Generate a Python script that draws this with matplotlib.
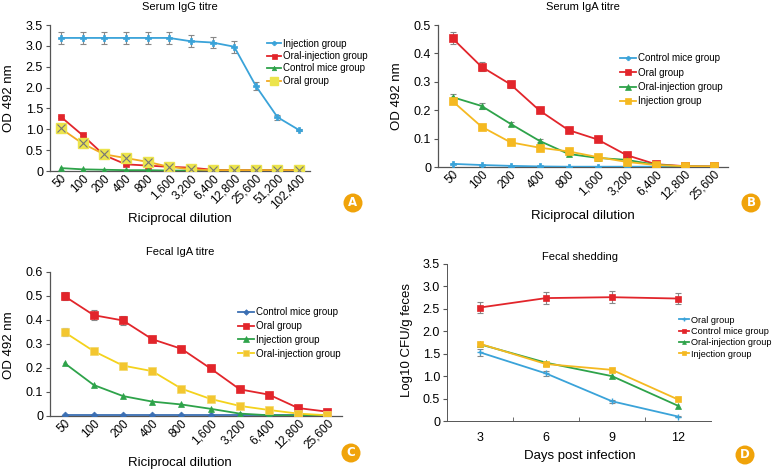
import matplotlib.pyplot as plt
from matplotlib.patches import Ellipse

plt.rcParams['font.family'] = ['Liberation Sans', 'DejaVu Sans']

BLUE = '#3aa3d9'
RED = '#e2252b'
GREEN = '#2ea34a'
YELLOW = '#f5b921'
DARKBLUE = '#3b6fb3'

# Panel A - Serum IgG titre
a_labels = ['50', '100', '200', '400', '800', '1,600', '3,200', '6,400', '12,800', '25,600', '51,200', '102,400']
a_injection = [3.19, 3.19, 3.19, 3.19, 3.19, 3.19, 3.11, 3.08, 2.98, 2.04, 1.29, 0.98]
a_injection_err = [0.15, 0.15, 0.15, 0.15, 0.15, 0.15, 0.14, 0.14, 0.14, 0.09, 0.06, 0.03]
a_oral_inj = [1.30, 0.86, 0.38, 0.16, 0.13, 0.10, 0.08, 0.03, 0.02, 0.02, 0.02, 0.02]
a_oral_inj_err = [0.03, 0.03, 0.02, 0.02, 0.01, 0.01, 0.01, 0.01, 0.01, 0.01, 0.01, 0.01]
a_control = [0.07, 0.04, 0.03, 0.02, 0.02, 0.01, 0.01, 0.01, 0.01, 0.01, 0.01, 0.01]
a_oral = [1.02, 0.66, 0.40, 0.31, 0.22, 0.10, 0.04, 0.02, 0.02, 0.02, 0.02, 0.02]

# Panel B - Serum IgA titre
b_labels = ['50', '100', '200', '400', '800', '1,600', '3,200', '6,400', '12,800', '25,600']
b_control = [0.011, 0.007, 0.004, 0.002, 0.001, 0.001, 0.001, 0.001, 0.001, 0.001]
b_oral = [0.453, 0.353, 0.291, 0.199, 0.130, 0.097, 0.042, 0.010, 0.003, 0.002]
b_oral_err = [0.021, 0.015, 0.013, 0.006, 0.005, 0.004, 0.004, 0.002, 0.001, 0.001]
b_oral_inj = [0.246, 0.215, 0.152, 0.092, 0.046, 0.032, 0.025, 0.008, 0.002, 0.001]
b_oral_inj_err = [0.012, 0.011, 0.007, 0.005, 0.003, 0.002, 0.002, 0.001, 0.001, 0.001]
b_injection = [0.232, 0.142, 0.087, 0.068, 0.055, 0.035, 0.018, 0.007, 0.003, 0.002]
b_injection_err = [0.010, 0.006, 0.004, 0.003, 0.003, 0.002, 0.002, 0.001, 0.001, 0.001]

# Panel C - Fecal IgA titre
c_labels = b_labels
c_control = [0.003] * 10
c_oral = [0.499, 0.420, 0.398, 0.320, 0.280, 0.198, 0.111, 0.089, 0.033, 0.018]
c_oral_err = [0.016, 0.020, 0.018, 0.012, 0.009, 0.006, 0.005, 0.005, 0.004, 0.003]
c_injection = [0.220, 0.129, 0.083, 0.060, 0.048, 0.030, 0.010, 0.003, 0.002, 0.002]
c_oral_inj = [0.349, 0.270, 0.210, 0.187, 0.114, 0.071, 0.042, 0.025, 0.010, 0.003]
c_oral_inj_err = [0.017, 0.012, 0.006, 0.006, 0.005, 0.004, 0.003, 0.002, 0.002, 0.001]

# Panel D - Fecal shedding
d_days = ['3', '6', '9', '12']
d_oral = [1.53, 1.06, 0.44, 0.10]
d_oral_err = [0.07, 0.06, 0.03, 0.02]
d_control = [2.53, 2.74, 2.76, 2.73]
d_control_err = [0.12, 0.13, 0.13, 0.13]
d_oral_inj = [1.71, 1.30, 1.00, 0.34]
d_injection = [1.72, 1.27, 1.14, 0.48]

W, H = 777, 470
fig = plt.figure(figsize=(W / 100, H / 100), dpi=100)

TICK_FS = 9
LAB_FS = 9.5
TITLE_FS = 8
LEG_FS = 7


def style_axis(ax, labels, ymax, ystep):
    ax.spines['top'].set_visible(False)
    ax.spines['right'].set_visible(False)
    for s in ['left', 'bottom']:
        ax.spines[s].set_color('#555555')
        ax.spines[s].set_linewidth(0.9)
    ax.set_xlim(-0.5, len(labels) - 0.5)
    ax.set_ylim(0, ymax)
    ticks = [i * ystep for i in range(int(round(ymax / ystep)) + 1)]
    ax.set_yticks(ticks)
    ax.tick_params(axis='y', direction='out', length=3, width=0.8, color='#555555',
                   labelsize=TICK_FS, pad=2)
    ax.tick_params(axis='x', length=0, labelsize=8.5, pad=1)
    ax.yaxis.set_major_formatter(plt.FuncFormatter(lambda v, p: '0' if v == 0 else '%.1f' % v))


def draw(ax, x, y, color, marker, label, err=None, ms=5, mfc=None, mec=None, mew=0.5):
    if err is not None:
        ax.errorbar(x, y, yerr=err, fmt='none', ecolor='#888888', elinewidth=0.8,
                    capsize=2, capthick=0.8, zorder=2)
    ax.plot(x, y, color=color, lw=1.3, marker=marker, ms=ms,
            mfc=mfc if mfc else color, mec=mec if mec else color, mew=mew,
            label=label, zorder=3)


def circle_label(x, y, letter):
    fig.patches.append(Ellipse((x / W, 1 - y / H), 19 / W, 19 / H, transform=fig.transFigure,
                               facecolor='#f0a30a', edgecolor='none'))
    fig.text(x / W, 1 - y / H, letter, color='white', fontsize=8.5, fontweight='bold',
             ha='center', va='center', family='DejaVu Sans')


def ftext(x, y, s, **kw):
    fig.text(x / W, 1 - y / H, s, ha='center', va='center', **kw)


# --- Panel A
axA = fig.add_axes([50 / W, 1 - 171 / H, 260 / W, 146 / H])
xa = list(range(len(a_labels)))
draw(axA, xa, a_injection, BLUE, 'P', 'Injection group', a_injection_err, ms=4)
draw(axA, xa, a_oral_inj, RED, 's', 'Oral-injection group', a_oral_inj_err, ms=4.5)
draw(axA, xa, a_control, GREEN, '^', 'Control mice group', ms=4)
axA.plot(xa, a_oral, color='#f2a922', lw=1.3, marker='s', ms=7, mfc='#ece44c',
         mec='#ece44c', label='Oral group', zorder=4)
axA.plot(xa, a_oral, ls='none', marker='x', ms=5.5, mec='#777777', mew=0.8, zorder=5)
style_axis(axA, a_labels, 3.5, 0.5)
axA.set_xticks(xa)
axA.set_xticklabels(a_labels, rotation=45, ha='right', rotation_mode='anchor')
axA.legend(loc='upper left', bbox_to_anchor=(0.815, 0.94), frameon=False, fontsize=LEG_FS,
           handlelength=1.5, handletextpad=0.2, labelspacing=0.25, borderpad=0,
           markerscale=0.8)
ftext(180, 7, 'Serum IgG titre', fontsize=TITLE_FS)
ftext(9, 98, 'OD 492 nm', rotation=90, fontsize=LAB_FS)
ftext(180, 219, 'Riciprocal dilution', fontsize=LAB_FS)
circle_label(353, 203, 'A')

# --- Panel B
axB = fig.add_axes([438 / W, 1 - 167 / H, 290 / W, 142 / H])
xb = list(range(len(b_labels)))
draw(axB, xb, b_control, BLUE, 'P', 'Control mice group', ms=4)
draw(axB, xb, b_oral, RED, 's', 'Oral group', b_oral_err, ms=5.5)
draw(axB, xb, b_oral_inj, GREEN, '^', 'Oral-injection group', b_oral_inj_err, ms=5)
draw(axB, xb, b_injection, YELLOW, 's', 'Injection group', b_injection_err, ms=5.5)
style_axis(axB, b_labels, 0.5, 0.1)
axB.set_xticks(xb)
axB.set_xticklabels(b_labels, rotation=45, ha='right', rotation_mode='anchor')
axB.legend(loc='upper left', bbox_to_anchor=(0.612, 0.835), frameon=False, fontsize=LEG_FS,
           handlelength=1.6, handletextpad=0.2, labelspacing=0.45, borderpad=0,
           markerscale=0.8)
ftext(583, 7, 'Serum IgA titre', fontsize=TITLE_FS)
ftext(397, 96, 'OD 492 nm', rotation=90, fontsize=LAB_FS)
ftext(583, 216, 'Riciprocal dilution', fontsize=LAB_FS)
circle_label(751, 203, 'B')

# --- Panel C
axC = fig.add_axes([50 / W, 1 - 416 / H, 292 / W, 144 / H])
xc = list(range(len(c_labels)))
draw(axC, xc, c_control, DARKBLUE, 'D', 'Control mice group', ms=3.5)
draw(axC, xc, c_oral, RED, 's', 'Oral group', c_oral_err, ms=6)
draw(axC, xc, c_injection, GREEN, '^', 'Injection group', ms=5)
draw(axC, xc, c_oral_inj, '#f4d21c', 's', 'Oral-injection group', c_oral_inj_err, ms=6,
     mfc='#f3c630', mec='#f3d96a')
style_axis(axC, c_labels, 0.6, 0.1)
axC.set_xticks(xc)
axC.set_xticklabels(c_labels, rotation=45, ha='right', rotation_mode='anchor')
axC.legend(loc='upper left', bbox_to_anchor=(0.628, 0.79), frameon=False, fontsize=LEG_FS,
           handlelength=1.6, handletextpad=0.2, labelspacing=0.4, borderpad=0,
           markerscale=0.8)
ftext(180, 252, 'Fecal IgA titre', fontsize=TITLE_FS)
ftext(9, 345, 'OD 492 nm', rotation=90, fontsize=LAB_FS)
ftext(180, 463, 'Riciprocal dilution', fontsize=LAB_FS)
circle_label(351, 453, 'C')

# --- Panel D
axD = fig.add_axes([447 / W, 1 - 421 / H, 264 / W, 157 / H])
xd = list(range(len(d_days)))
draw(axD, xd, d_oral, BLUE, '+', 'Oral group', d_oral_err, ms=4, mew=1.0)
draw(axD, xd, d_control, RED, 's', 'Control mice group', d_control_err, ms=4)
draw(axD, xd, d_oral_inj, GREEN, '^', 'Oral-injection group', ms=4)
draw(axD, xd, d_injection, YELLOW, 's', 'Injection group', ms=4)
style_axis(axD, d_days, 3.5, 0.5)
axD.set_xticks(xd)
axD.set_xticklabels(d_days)
axD.set_xticks([0.5, 1.5, 2.5], minor=True)
axD.tick_params(axis='x', which='minor', direction='in', length=3, color='#555555')
axD.tick_params(axis='x', labelsize=TICK_FS, pad=8)
for sp in axD.spines.values():
    sp.set_linewidth(0.7)
axD.legend(loc='upper left', bbox_to_anchor=(0.862, 0.70), frameon=False, fontsize=6.6,
           handlelength=1.1, handletextpad=0.2, labelspacing=0.25, borderpad=0,
           markerscale=0.7)
ftext(580, 257, 'Fecal shedding', fontsize=TITLE_FS)
ftext(407, 340, 'Log10 CFU/g feces', rotation=90, fontsize=LAB_FS)
ftext(580, 456, 'Days post infection', fontsize=LAB_FS)
circle_label(745, 455, 'D')

fig.savefig('out.png', dpi=100)
